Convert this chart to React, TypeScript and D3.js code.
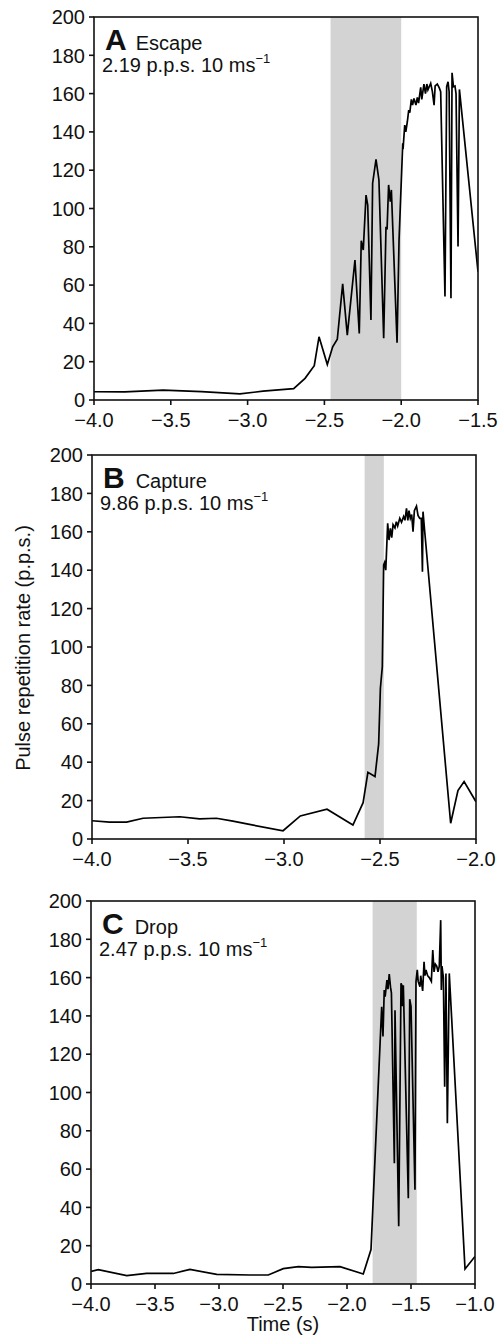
import React from "react";
import * as d3 from "d3";

// ---- data (time s, pulse repetition rate p.p.s.) ----
const escapeSeries: [number, number][] = [
  [-4.0, 4.3], [-3.8, 4.2], [-3.55, 5.2], [-3.3, 4.4], [-3.05, 3.2], [-2.9, 4.6], [-2.7, 5.9],
  [-2.626, 11.3], [-2.566, 17.9], [-2.535, 33], [-2.481, 18.5], [-2.446, 27.8], [-2.416, 31.7],
  [-2.381, 60.6], [-2.351, 33.9], [-2.301, 73.1], [-2.273, 34.8], [-2.26, 83.2], [-2.247, 78.3],
  [-2.229, 107], [-2.218, 101.8], [-2.197, 41.8], [-2.186, 113.2], [-2.164, 125.7], [-2.145, 114.9],
  [-2.114, 32.2], [-2.099, 90.5], [-2.092, 89.1], [-2.082, 112.3], [-2.071, 103.6], [-2.064, 109.7],
  [-2.027, 29.9], [-2.014, 83.5], [-1.99, 134], [-1.988, 131], [-1.977, 143.6], [-1.97, 140],
  [-1.96, 145.3], [-1.951, 151.4], [-1.944, 150], [-1.934, 157], [-1.926, 154], [-1.917, 157.5],
  [-1.904, 154], [-1.895, 158], [-1.887, 155], [-1.873, 163.3], [-1.866, 157], [-1.852, 165],
  [-1.842, 160], [-1.833, 165], [-1.826, 162], [-1.808, 165.4], [-1.797, 161], [-1.786, 154],
  [-1.779, 164], [-1.765, 165], [-1.752, 163], [-1.743, 161], [-1.715, 54], [-1.704, 163.6],
  [-1.695, 166.2], [-1.688, 161], [-1.676, 53.1], [-1.669, 170.9], [-1.66, 163.6], [-1.65, 164],
  [-1.643, 160], [-1.63, 80.1], [-1.621, 162.2], [-1.5, 67],
];

const captureSeries: [number, number][] = [
  [-4.0, 9.5], [-3.908, 8.8], [-3.82, 8.8], [-3.734, 10.8], [-3.543, 11.6], [-3.439, 10.5],
  [-3.352, 10.8], [-3.266, 9.3], [-3.18, 7.6], [-3.005, 4.3], [-2.915, 12], [-2.776, 15.5],
  [-2.641, 7.3], [-2.588, 18.9], [-2.563, 34.7], [-2.526, 32.5], [-2.507, 49.5], [-2.498, 78.5],
  [-2.488, 89.7], [-2.481, 142.7], [-2.476, 144], [-2.47, 140], [-2.46, 164.4], [-2.453, 155.7],
  [-2.446, 161.8], [-2.439, 157], [-2.432, 163.7], [-2.422, 162], [-2.415, 165.3], [-2.408, 163],
  [-2.397, 167], [-2.388, 165], [-2.377, 168], [-2.37, 166], [-2.362, 172.2], [-2.355, 166],
  [-2.349, 171], [-2.342, 167], [-2.335, 169], [-2.328, 160], [-2.321, 171], [-2.31, 173.4],
  [-2.302, 168.5], [-2.293, 167], [-2.285, 167], [-2.279, 139.2], [-2.276, 170.5], [-2.267, 160],
  [-2.132, 8.2], [-2.094, 25.2], [-2.062, 29.9], [-2.0, 19.4],
];

const dropSeries: [number, number][] = [
  [-4.0, 6.6], [-3.943, 7.5], [-3.721, 4.4], [-3.565, 5.5], [-3.357, 5.5], [-3.227, 7.6],
  [-3.018, 5.0], [-2.758, 4.7], [-2.615, 4.7], [-2.498, 8.0], [-2.38, 9.1], [-2.276, 8.7],
  [-2.055, 9.1], [-1.873, 5.2], [-1.8125, 18], [-1.729, 144.8], [-1.719, 129.2], [-1.709, 153.5],
  [-1.702, 150], [-1.688, 158.7], [-1.68, 154], [-1.67, 161.9], [-1.66, 155], [-1.653, 152],
  [-1.63, 63.1], [-1.625, 143], [-1.596, 30.1], [-1.578, 157], [-1.572, 156], [-1.566, 145],
  [-1.56, 156], [-1.521, 44.8], [-1.51, 148.7], [-1.5, 145], [-1.469, 49.2], [-1.461, 157.9],
  [-1.451, 164], [-1.444, 158], [-1.43, 155.2], [-1.424, 161], [-1.409, 153], [-1.398, 168.3],
  [-1.391, 161], [-1.383, 164], [-1.37, 161], [-1.357, 160], [-1.341, 158], [-1.33, 174.4],
  [-1.32, 163], [-1.31, 167], [-1.299, 166], [-1.289, 163], [-1.279, 166], [-1.268, 190],
  [-1.263, 153.5], [-1.258, 166], [-1.247, 160], [-1.237, 103], [-1.227, 162.2], [-1.216, 84],
  [-1.201, 162.2], [-1.078, 7.8], [-1.0, 14.4],
];

const panelLetters = ["A", "B", "C"];
const panelTitles = ["Escape", "Capture", "Drop"];
const panelRates = ["2.19", "9.86", "2.47"];
const xDomains: [number, number][] = [[-4, -1.5], [-4, -2], [-4, -1]];
const shadedIntervals: [number, number][] = [[-2.46, -2.0], [-2.58, -2.48], [-1.8, -1.455]];
const yTickValues = [0, 20, 40, 60, 80, 100, 120, 140, 160, 180, 200];
const xTickStep = 0.5;
const yAxisLabel = "Pulse repetition rate (p.p.s.)";
const xAxisLabel = "Time (s)";

// ---- layout ----
const boxes = [
  { left: 94, right: 478, top: 17, bottom: 400 },
  { left: 92, right: 476, top: 455, bottom: 839 },
  { left: 91, right: 475, top: 901, bottom: 1284 },
];
const FONT = "'Liberation Sans', Arial, Helvetica, sans-serif";
const seriesList = [escapeSeries, captureSeries, dropSeries];

function Panel({ i }: { i: number }) {
  const b = boxes[i];
  const x = d3.scaleLinear().domain(xDomains[i]).range([b.left, b.right]);
  const y = d3.scaleLinear().domain([0, 200]).range([b.bottom, b.top]);
  const line = d3
    .line<[number, number]>()
    .x((d) => x(d[0]))
    .y((d) => y(d[1]));
  const [d0, d1] = xDomains[i];
  const xTicks = d3.range(d0, d1 + 1e-9, xTickStep);
  const fmt = d3.format(".1f");
  const clipId = `clip${i}`;
  return (
    <g>
      <defs>
        <clipPath id={clipId}>
          <rect x={b.left} y={b.top} width={b.right - b.left} height={b.bottom - b.top} />
        </clipPath>
      </defs>
      <rect
        x={x(shadedIntervals[i][0])}
        y={b.top}
        width={x(shadedIntervals[i][1]) - x(shadedIntervals[i][0])}
        height={b.bottom - b.top}
        fill="#d3d3d3"
      />
      <path
        d={line(seriesList[i]) || ""}
        fill="none"
        stroke="#000"
        strokeWidth={1.7}
        strokeLinejoin="miter"
        clipPath={`url(#${clipId})`}
      />
      <rect
        x={b.left}
        y={b.top}
        width={b.right - b.left}
        height={b.bottom - b.top}
        fill="none"
        stroke="#111"
        strokeWidth={1.6}
      />
      {yTickValues.map((v) => (
        <g key={v}>
          <line x1={b.left - 5} x2={b.left} y1={y(v)} y2={y(v)} stroke="#111" strokeWidth={1.6} />
          <text
            x={b.left - 9}
            y={y(v)}
            dy="0.36em"
            textAnchor="end"
            fontSize={20}
            fontFamily={FONT}
            fill="#111"
          >
            {v}
          </text>
        </g>
      ))}
      {xTicks.map((v) => (
        <g key={v}>
          <line x1={x(v)} x2={x(v)} y1={b.bottom} y2={b.bottom + 5} stroke="#111" strokeWidth={1.6} />
          <text
            x={x(v)}
            y={b.bottom + 27}
            textAnchor="middle"
            fontSize={20}
            fontFamily={FONT}
            fill="#111"
          >
            {fmt(v)}
          </text>
        </g>
      ))}
      <text x={b.left + 11} y={b.top + 33} fontFamily={FONT} fill="#111">
        <tspan fontSize={30} fontWeight="bold">{panelLetters[i]}</tspan>
        <tspan fontSize={20} dx={i === 0 ? 9 : 11}>{panelTitles[i]}</tspan>
      </text>
      <text x={b.left + 8} y={b.top + 55} fontFamily={FONT} fill="#111" fontSize={20}>
        <tspan>{`${panelRates[i]} p.p.s. 10 ms`}</tspan>
        <tspan fontSize={13} dy={-9}>{"\u22121"}</tspan>
      </text>
    </g>
  );
}

export default function App() {
  return (
    <svg
      width={500}
      height={1344}
      viewBox="0 0 500 1344"
      style={{ position: "absolute", left: 0, top: 0, display: "block", background: "#fff" }}
    >
      <rect x={0} y={0} width={500} height={1344} fill="#fff" />
      {boxes.map((_, i) => (
        <Panel key={i} i={i} />
      ))}
      <text
        transform={`translate(30,648) rotate(-90)`}
        textAnchor="middle"
        fontSize={20}
        fontFamily={FONT}
        fill="#111"
      >
        {yAxisLabel}
      </text>
      <text x={283} y={1331} textAnchor="middle" fontSize={20} fontFamily={FONT} fill="#111">
        {xAxisLabel}
      </text>
    </svg>
  );
}
